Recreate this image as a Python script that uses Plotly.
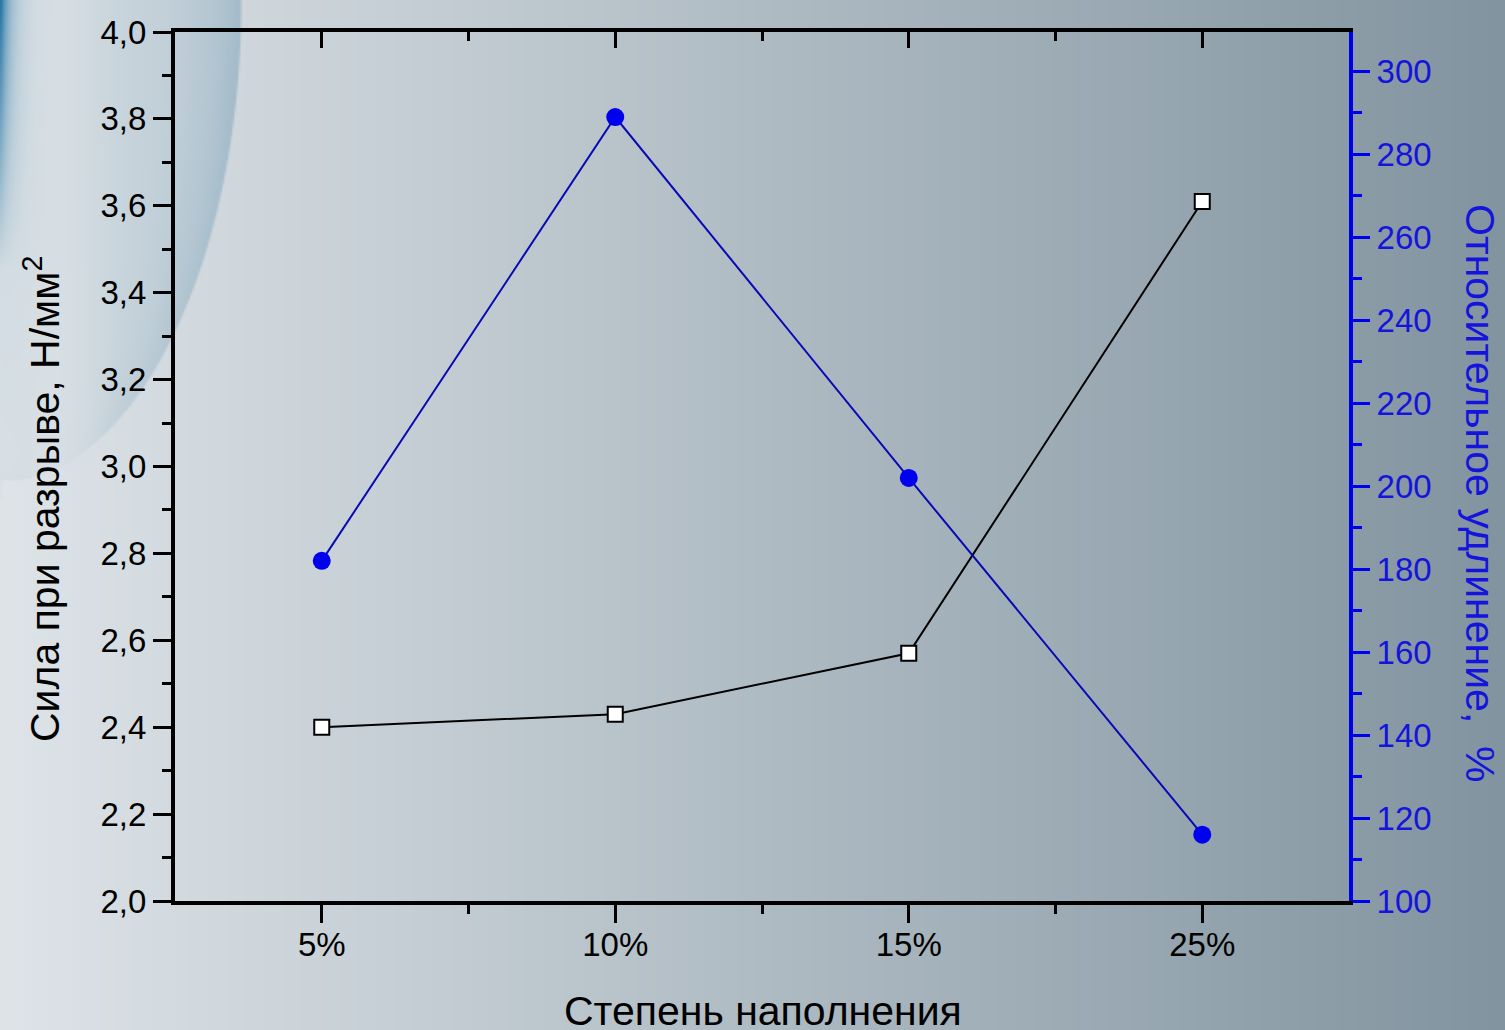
import base64
import struct
import zlib

import numpy as np
import plotly.graph_objects as go

# ---- data ---------------------------------------------------------------
fill_levels = ["5%", "10%", "15%", "25%"]
break_force = [2.40, 2.43, 2.57, 3.61]          # Н/мм²
elongation = [182, 289, 202, 116]               # %

left_ticks = [2.0, 2.2, 2.4, 2.6, 2.8, 3.0, 3.2, 3.4, 3.6, 3.8, 4.0]
right_ticks = [100, 120, 140, 160, 180, 200, 220, 240, 260, 280, 300]

# ---- canvas geometry ----------------------------------------------------
W, H = 1505, 1030
ML, MR, MT, MB = 175, 156, 32, 129
PW, PH = W - ML - MR, H - MT - MB

FONT = "Liberation Sans, Arial, sans-serif"
BLUE = "#1414dc"


def png_uri(rgb):
    h, w, _ = rgb.shape
    raw = b"".join(b"\x00" + rgb[r].tobytes() for r in range(h))

    def chunk(tag, data):
        body = tag + data
        return struct.pack(">I", len(data)) + body + struct.pack(">I", zlib.crc32(body) & 0xFFFFFFFF)

    png = (b"\x89PNG\r\n\x1a\n"
           + chunk(b"IHDR", struct.pack(">IIBBBBB", w, h, 8, 2, 0, 0, 0))
           + chunk(b"IDAT", zlib.compress(raw, 9))
           + chunk(b"IEND", b""))
    return "data:image/png;base64," + base64.b64encode(png).decode()


def backdrop():
    s = 2  # render at half resolution, browser stretches it
    w, h = W // s, H // s
    X, Y = np.meshgrid(np.arange(w) * s, np.arange(h) * s)
    X = X.astype(float)
    Y = Y.astype(float)
    t = X / W
    left = np.array([222, 228, 232], float)
    right = np.array([130, 148, 160], float)
    img = left * (1 - t[..., None]) + right * t[..., None]

    # soft blue swoosh in the upper-left corner
    xb = 240 * np.sqrt(np.clip(1 - (Y / 480) ** 2, 0, 1))
    inside = np.clip((xb - X) / 2 + 0.5, 0, 1)
    d = np.clip(xb - X, 0, None)
    a = inside * (0.12 + 0.32 * np.exp(-d / 40))
    a *= 1 - 0.75 * np.exp(-((X - 60) / 38) ** 2)
    a *= np.clip(1 - (Y / 500) ** 2, 0, 1) ** 0.6
    tint = np.array([105, 150, 178], float)
    img = img * (1 - a[..., None]) + tint * a[..., None]

    # vivid streak on the far left edge
    b = np.exp(-X / 9) * np.clip(1 - Y / 270, 0, 1) * 0.9
    deep = np.array([20, 108, 160], float)
    img = img * (1 - b[..., None]) + deep * b[..., None]
    return png_uri(np.clip(img, 0, 255).astype(np.uint8))


xpos = list(range(len(fill_levels)))

fig = go.Figure()

fig.add_trace(go.Scatter(
    x=xpos, y=break_force, mode="lines+markers",
    line=dict(color="black", width=2),
    marker=dict(symbol="square", size=15, color="white",
                line=dict(color="black", width=2)),
    showlegend=False, hoverinfo="skip",
))

fig.add_trace(go.Scatter(
    x=xpos, y=elongation, mode="lines+markers", yaxis="y2",
    line=dict(color="#0a0ab4", width=2),
    marker=dict(symbol="circle", size=18, color="#0000f0"),
    showlegend=False, hoverinfo="skip",
))

# carrier for the top frame axis
fig.add_trace(go.Scatter(x=[], y=[], xaxis="x2", showlegend=False, hoverinfo="skip"))

xrange = [-0.5, len(fill_levels) - 0.5]
half_steps = [i + 0.5 for i in range(len(fill_levels) - 1)]

fig.update_layout(
    width=W, height=H,
    margin=dict(l=ML, r=MR, t=MT, b=MB, pad=0),
    paper_bgcolor="#c0c9ce",
    plot_bgcolor="rgba(0,0,0,0)",
    separators=", ",
    font=dict(family=FONT, color="black"),
    xaxis=dict(
        range=xrange, tickmode="array", tickvals=xpos, ticktext=fill_levels,
        showgrid=False, zeroline=False,
        showline=True, linecolor="black", linewidth=4,
        ticks="outside", ticklen=18, tickwidth=3, tickcolor="black",
        ticklabelstandoff=-7,
        minor=dict(tickmode="array", tickvals=half_steps, ticks="outside",
                   ticklen=9, tickwidth=3, tickcolor="black"),
        tickfont=dict(size=33, family=FONT, color="black"),
    ),
    xaxis2=dict(
        range=xrange, overlaying="x", side="top", anchor="y",
        tickmode="array", tickvals=xpos, showticklabels=False,
        showgrid=False, zeroline=False,
        showline=True, linecolor="black", linewidth=4,
        ticks="inside", ticklen=16, tickwidth=3, tickcolor="black",
        minor=dict(tickmode="array", tickvals=half_steps, ticks="inside",
                   ticklen=9, tickwidth=3, tickcolor="black"),
    ),
    yaxis=dict(
        range=[2.0, 4.0], tickmode="array", tickvals=left_ticks, tickformat=".1f",
        showgrid=False, zeroline=False,
        showline=True, linecolor="black", linewidth=4,
        ticks="outside", ticklen=18, tickwidth=3, tickcolor="black",
        minor=dict(dtick=0.1, tick0=2.0, ticks="outside", ticklen=9,
                   tickwidth=3, tickcolor="black"),
        tickfont=dict(size=33, family=FONT, color="black"),
    ),
    yaxis2=dict(
        range=[100, 309.5], overlaying="y", side="right", anchor="x",
        tickmode="array", tickvals=right_ticks,
        showgrid=False, zeroline=False,
        showline=True, linecolor="#0000f0", linewidth=4,
        ticks="outside", ticklen=17, tickwidth=3, tickcolor="#0000f0",
        minor=dict(dtick=10, tick0=100, ticks="outside", ticklen=9,
                   tickwidth=3, tickcolor="#0000f0"),
        tickfont=dict(size=33, family=FONT, color=BLUE),
    ),
    images=[dict(
        source=backdrop(), xref="paper", yref="paper",
        x=-ML / PW, y=1 + MT / PH, sizex=W / PW, sizey=H / PH,
        xanchor="left", yanchor="top", sizing="stretch", layer="below",
    )],
    annotations=[
        dict(text="Степень наполнения", xref="paper", yref="paper",
             x=(763 - ML) / PW, y=-(986 - (MT + PH)) / PH,
             xanchor="center", yanchor="top", showarrow=False,
             font=dict(size=41, family=FONT, color="black")),
        dict(text="Сила при разрыве, Н/мм<sup>2</sup>", xref="paper", yref="paper",
             x=(42 - ML) / PW, y=(MT + PH - 499) / PH, textangle=-90,
             xanchor="center", yanchor="middle", showarrow=False,
             font=dict(size=41, family=FONT, color="black")),
        dict(text="Относительное удлинение,  %", xref="paper", yref="paper",
             x=(1480 - ML) / PW, y=(MT + PH - 493) / PH, textangle=90,
             xanchor="center", yanchor="middle", showarrow=False,
             font=dict(size=41, family=FONT, color=BLUE)),
    ],
)

fig.write_html("out.html")
